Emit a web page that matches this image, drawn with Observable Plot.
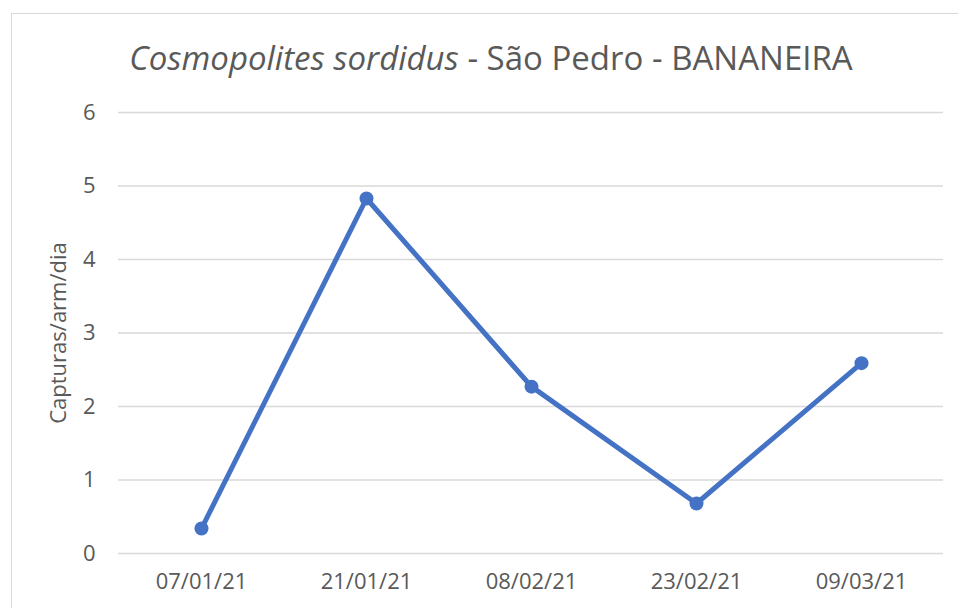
<!DOCTYPE html>
<html>
<head>
<meta charset="utf-8">
<script src="https://cdn.jsdelivr.net/npm/d3@7"></script>
<script src="https://cdn.jsdelivr.net/npm/@observablehq/plot@0.6"></script>
<style>
  html, body { margin: 0; padding: 0; background: #fff; overflow: hidden; }
  #wrap { position: relative; width: 958px; height: 608px; }
  #border { position: absolute; left: 11px; top: 13px; width: 1000px; height: 700px; border: 1.5px solid #d9d9d9; box-sizing: border-box; }
  #chart { position: absolute; left: 0; top: 0; }
</style>
</head>
<body>
<div id="wrap"><div id="border"></div><div id="chart"></div></div>
<script>
const titleItalic = "Cosmopolites sordidus";
const titleRest = " - São Pedro - BANANEIRA";
const yLabel = "Capturas/arm/dia";
const dates = ["07/01/21", "21/01/21", "08/02/21", "23/02/21", "09/03/21"];
const values = [0.34, 4.83, 2.27, 0.68, 2.59];
const yTicks = [0, 1, 2, 3, 4, 5, 6];

const data = dates.map((d, i) => ({date: d, value: values[i]}));
const textColor = "#595959";
const lineColor = "#4472C4";

const chart = Plot.plot({
  width: 958,
  height: 608,
  marginTop: 112,
  marginBottom: 55,
  marginLeft: 118,
  marginRight: 15,
  style: {fontFamily: "'Open Sans', sans-serif", fontSize: "22px", color: textColor, background: "transparent", overflow: "visible"},
  x: {type: "point", domain: dates, padding: 0.5, label: null},
  y: {domain: [0, 6], ticks: yTicks, label: yLabel, tickFormat: "d"},
  marks: [
    Plot.gridY(yTicks, {stroke: "#d9d9d9", strokeOpacity: 1, strokeWidth: 1.4}),
    Plot.axisX({tickSize: 0, tickPadding: 20, fill: textColor, fontSize: 22, label: null}),
    Plot.axisY(yTicks, {tickSize: 0, tickPadding: 23, fill: textColor, fontSize: 22, tickFormat: "d", label: yLabel, labelAnchor: "center", labelArrow: "none", labelOffset: 68}),
    Plot.line(data, {x: "date", y: "value", stroke: lineColor, strokeWidth: 5, strokeLinejoin: "round"}),
    Plot.dot(data, {x: "date", y: "value", r: 7, fill: lineColor, stroke: "none"})
  ]
});
document.getElementById("chart").append(chart);

const svg = d3.select(chart);
const t = svg.append("text")
  .attr("x", 491)
  .attr("y", 70)
  .attr("text-anchor", "middle")
  .attr("fill", textColor)
  .style("font-family", "'Open Sans', sans-serif")
  .style("font-size", "33px");
t.append("tspan").attr("font-style", "italic").text(titleItalic);
t.append("tspan").text(titleRest);
</script>
</body>
</html>
